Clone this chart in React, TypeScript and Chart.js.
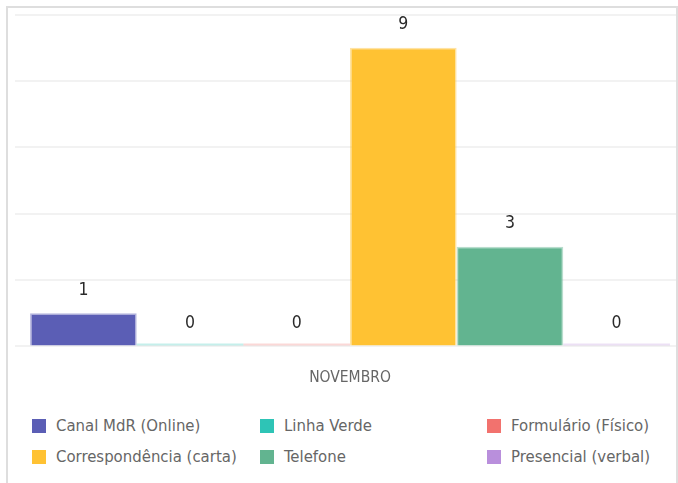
import React, { useEffect, useRef } from "react";
import { Chart, registerables } from "chart.js";

Chart.register(...registerables);

const categories = ["NOVEMBRO"];
const seriesNames = [
  "Canal MdR (Online)",
  "Linha Verde",
  "Formulário (Físico)",
  "Correspondência (carta)",
  "Telefone",
  "Presencial (verbal)",
];
const canalValues = [1];
const linhaVerdeValues = [0];
const formularioValues = [0];
const correspondenciaValues = [9];
const telefoneValues = [3];
const presencialValues = [0];
const seriesColors = ["#5b5eb5", "#2ec4b6", "#f2726e", "#ffc233", "#62b490", "#b98fdc"];
const yMin = 0;
const yMax = 10;
const yStep = 2;

const FONT = "'DejaVu Sans Condensed', 'Roboto', sans-serif";

function rgba(hex: string, a: number) {
  const n = parseInt(hex.slice(1), 16);
  return `rgba(${(n >> 16) & 255},${(n >> 8) & 255},${n & 255},${a})`;
}

const valueLabels = {
  id: "valueLabels",
  afterDatasetsDraw(chart: any) {
    const { ctx } = chart;
    const y = chart.scales.y;
    ctx.save();
    ctx.font = `17.5px ${FONT}`;
    ctx.fillStyle = "#2a2a2a";
    ctx.textAlign = "center";
    ctx.textBaseline = "middle";
    chart.data.datasets.forEach((ds: any, i: number) => {
      const meta = chart.getDatasetMeta(i);
      meta.data.forEach((bar: any, j: number) => {
        const v = ds.data[j];
        ctx.fillText(String(v), bar.x, y.getPixelForValue(v) - 23);
      });
    });
    ctx.restore();
  },
};

export default function App() {
  const ref = useRef<HTMLCanvasElement>(null);

  useEffect(() => {
    const allValues = [
      canalValues,
      linhaVerdeValues,
      formularioValues,
      correspondenciaValues,
      telefoneValues,
      presencialValues,
    ];
    const chart = new Chart(ref.current as HTMLCanvasElement, {
      type: "bar",
      data: {
        labels: categories,
        datasets: seriesNames.map((name, i) => ({
          label: name,
          data: allValues[i],
          backgroundColor: (c: any) => (c.raw === 0 ? rgba(seriesColors[i], 0.28) : seriesColors[i]),
          borderColor: rgba(seriesColors[i], 0.45),
          borderWidth: (c: any) => (c.raw === 0 ? 0 : 1.5),
          minBarLength: 3,
          categoryPercentage: 0.955,
          barPercentage: 1,
        })),
      },
      options: {
        responsive: false,
        animation: false,
        layout: { padding: { left: 15, right: 15, top: 14.5, bottom: 0 } },
        plugins: { legend: { display: false }, tooltip: { enabled: false } },
        scales: {
          x: {
            grid: { display: false, drawTicks: false },
            border: { display: false },
            ticks: { color: "#666", font: { family: FONT, size: 15.5 }, padding: 22.5 },
          },
          y: {
            min: yMin,
            max: yMax,
            ticks: { display: false, stepSize: yStep },
            grid: { color: "#f2f2f2", lineWidth: 2, drawTicks: false },
            border: { display: false },
          },
        },
      },
      plugins: [valueLabels],
    });
    return () => chart.destroy();
  }, []);

  const cols = [32, 260, 487];
  const rows = [419, 450];

  return (
    <div
      style={{
        position: "fixed",
        left: 0,
        top: 0,
        width: 678,
        height: 483,
        background: "#fff",
        overflow: "hidden",
      }}
    >
      <div
        style={{
          position: "absolute",
          left: 6,
          top: 6,
          width: 668,
          height: 520,
          border: "2px solid #dedede",
          overflow: "hidden",
        }}
      >
        <canvas
          ref={ref}
          width={700}
          height={410}
          style={{ position: "absolute", left: -8, top: -8, display: "block" }}
        />
      </div>
      {seriesNames.map((name, i) => (
        <div
          key={name}
          style={{
            position: "absolute",
            left: cols[i % 3],
            top: rows[Math.floor(i / 3)],
            height: 14,
            display: "flex",
            alignItems: "center",
            whiteSpace: "nowrap",
          }}
        >
          <span
            style={{
              display: "inline-block",
              width: 14,
              height: 14,
              background: seriesColors[i],
              marginRight: 10,
            }}
          />
          <span style={{ fontFamily: FONT, fontSize: 16.6, color: "#666", lineHeight: "14px" }}>
            {name}
          </span>
        </div>
      ))}
    </div>
  );
}
